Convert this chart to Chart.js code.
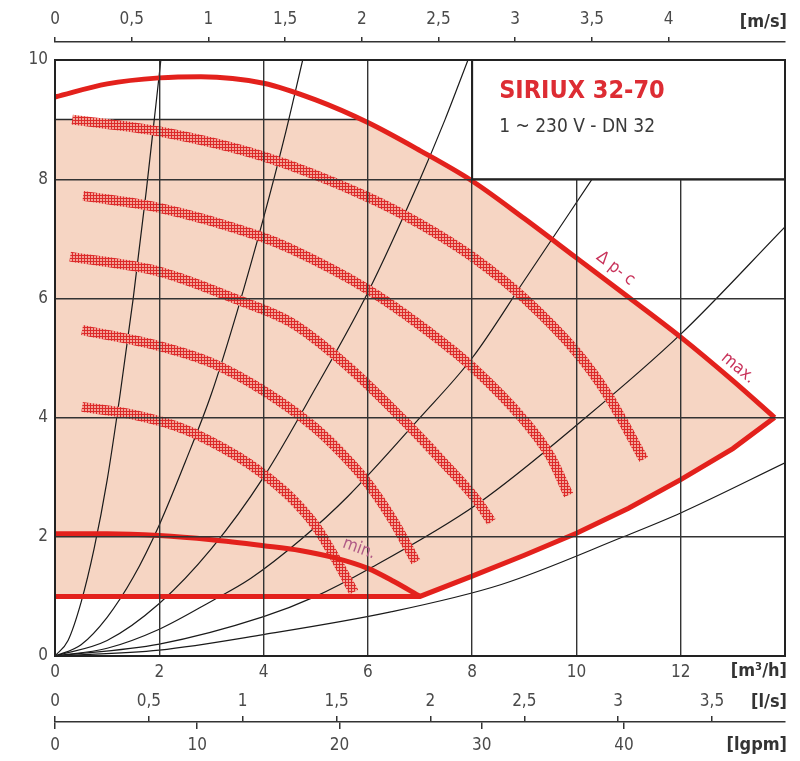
<!DOCTYPE html>
<html>
<head>
<meta charset="utf-8">
<script src="https://cdn.jsdelivr.net/npm/chart.js@4.4.1/dist/chart.umd.min.js"></script>
<style>
  html, body { margin: 0; padding: 0; background: #fff; }
  canvas { display: block; }
</style>
</head>
<body>
<canvas id="chart" width="800" height="761"></canvas>
<script>
// axis ticks
const qTicks = [0, 2, 4, 6, 8, 10, 12, 14];
const hTicks = [0, 2, 4, 6, 8, 10];
const msTicks = [0, 0.5, 1, 1.5, 2, 2.5, 3, 3.5, 4];
const lsTicks = [0, 0.5, 1, 1.5, 2, 2.5, 3, 3.5];
const gpmTicks = [0, 10, 20, 30, 40];

// max curve (Δp-c) and its straight part to the "max." corner
const maxQ = [0, 1, 2, 2.8, 4, 5, 6, 7, 8, 9, 10, 11, 12, 13, 13.8];
const maxH = [9.38, 9.6, 9.7, 9.72, 9.61, 9.33, 8.95, 8.48, 7.97, 7.34, 6.68, 6.02, 5.35, 4.62, 4.0];
// min curve
const minQ = [0, 1, 2, 3, 4, 4.7, 5.35, 6, 6.5, 7];
const minH = [2.05, 2.05, 2.02, 1.95, 1.85, 1.77, 1.65, 1.47, 1.25, 1.0];
// lower limit of the working field
const floorQ = [0, 7, 8, 9, 10, 11, 12, 13, 13.8];
const floorH = [1, 1, 1.34, 1.69, 2.06, 2.48, 2.96, 3.48, 4.0];
// upper cap of the shaded field
const capQ = [0, 5.9];
const capH = [9, 9];

// speed curves (hatched)
const speed1 = [[0.33, 9.0], [2, 8.8], [4, 8.38], [6, 7.7], [7, 7.25], [8, 6.7], [9, 6.0], [10, 5.1], [10.6, 4.38], [11.29, 3.3]];
const speed2 = [[0.54, 7.72], [2, 7.52], [3.9, 7.05], [4.5, 6.84], [6, 6.15], [7, 5.55], [8, 4.85], [9, 3.95], [9.5, 3.35], [9.85, 2.7]];
const speed3 = [[0.29, 6.7], [2, 6.45], [3.52, 5.97], [4.52, 5.6], [5.5, 4.95], [6.5, 4.12], [7.5, 3.2], [8.1, 2.6], [8.37, 2.25]];
const speed4 = [[0.52, 5.47], [2, 5.2], [3, 4.92], [4, 4.45], [5, 3.82], [5.5, 3.4], [6, 2.9], [6.5, 2.25], [6.92, 1.58]];
const speed5 = [[0.52, 4.18], [1.5, 4.05], [2.5, 3.8], [3.5, 3.35], [4, 3.05], [4.5, 2.68], [5, 2.18], [5.35, 1.68], [5.73, 1.07]];

// system (pipe) curves
const sysA = [[0, 0], [0.25, 0.26], [0.5, 0.9], [0.75, 1.8], [1, 2.95], [1.25, 4.4], [1.5, 6.0], [1.75, 7.8], [2.03, 10]];
const sysB = [[0, 0], [0.5, 0.19], [1, 0.65], [1.5, 1.32], [2, 2.2], [2.5, 3.26], [3, 4.4], [3.5, 5.8], [4, 7.35], [4.4, 8.7], [4.75, 10]];
const sysC = [[0, 0], [1, 0.26], [2, 0.88], [3, 1.8], [4, 3.0], [5, 4.5], [6, 6.1], [7, 8.0], [7.48, 9.0], [7.92, 10]];
const sysD = [[0, 0], [1, 0.13], [2, 0.45], [3, 0.92], [3.75, 1.3], [4.71, 1.95], [5.62, 2.68], [7, 4.0], [8, 5.0], [9, 6.3], [10.3, 8]];
const sysE = [[0, 0], [2, 0.2], [4, 0.66], [5, 1.0], [6, 1.45], [8.1, 2.55], [10.15, 3.98], [12, 5.4], [14, 7.2]];
const sysF = [[0, 0], [2, 0.1], [4, 0.36], [6.44, 0.74], [8.56, 1.2], [10.9, 2.0], [12, 2.4], [14, 3.24]];

const M3H_PER_MS = 2.942;
const M3H_PER_LS = 3.6;
const M3H_PER_GPM = 0.27277;
const Q_MAX = 14;

const RED = '#e3211c';
const PEACH = '#f6d5c3';
const TXT = '#4a4a4a';
const FONT = "'Liberation Sans Narrow', 'DejaVu Sans Condensed', 'Roboto', sans-serif";

const xy = (qs, hs) => qs.map((q, i) => ({ x: q, y: hs[i] }));
const pairs = arr => arr.map(p => ({ x: p[0], y: p[1] }));
const comma = v => String(v).replace('.', ',');

// hatch pattern for speed curves
const pc = document.createElement('canvas');
pc.width = 3; pc.height = 3;
const pctx = pc.getContext('2d');
pctx.fillStyle = '#f3a497';
pctx.fillRect(0, 0, 3, 3);
pctx.fillStyle = '#dc2a2a';
pctx.fillRect(0, 0, 3, 1);
pctx.fillRect(0, 0, 1, 3);
const hatch = pctx.createPattern(pc, 'repeat');

const redLine = (data, smooth) => ({
  data, borderColor: RED, borderWidth: 5, pointRadius: 0, fill: false,
  cubicInterpolationMode: smooth ? 'monotone' : 'default', tension: 0,
  borderJoinStyle: 'miter'
});
const speedLine = arr => ({
  data: pairs(arr), borderColor: hatch, borderWidth: 10, pointRadius: 0, fill: false,
  cubicInterpolationMode: 'monotone', borderCapStyle: 'butt'
});
const sysLine = arr => ({
  data: pairs(arr), borderColor: '#1a1a1a', borderWidth: 1.2, pointRadius: 0, fill: false,
  cubicInterpolationMode: 'monotone'
});

const fillTop = xy(capQ, capH).concat(xy(maxQ, maxH).filter(p => p.x >= 6));

const datasets = [
  redLine(xy(maxQ, maxH), true),
  redLine(xy(minQ, minH), true),
  redLine(xy(floorQ, floorH), false),
  speedLine(speed1), speedLine(speed2), speedLine(speed3), speedLine(speed4), speedLine(speed5),
  sysLine(sysA), sysLine(sysB), sysLine(sysC), sysLine(sysD), sysLine(sysE), sysLine(sysF),
  { data: xy(capQ, capH), borderColor: '#2a2a2a', borderWidth: 1.5, pointRadius: 0, fill: false },
  { data: fillTop, borderColor: 'rgba(0,0,0,0)', borderWidth: 0, pointRadius: 0,
    backgroundColor: PEACH, fill: { target: 2 }, cubicInterpolationMode: 'monotone' }
];

const setTicks = list => s => { s.ticks = list.map(v => ({ value: v })); };
const tickFont = { family: FONT, size: 17 };

const decor = {
  id: 'decor',
  afterDraw(chart) {
    const { ctx, chartArea: a, scales: { x, y } } = chart;
    ctx.save();
    ctx.strokeStyle = '#222';
    ctx.lineWidth = 2;
    ctx.strokeRect(a.left, a.top, a.right - a.left, a.bottom - a.top);

    // name box
    const bx = x.getPixelForValue(8), by = y.getPixelForValue(8);
    ctx.fillStyle = '#fff';
    ctx.fillRect(bx, a.top, a.right - bx, by - a.top);
    ctx.strokeRect(bx, a.top, a.right - bx, by - a.top);
    ctx.textAlign = 'left';
    ctx.textBaseline = 'alphabetic';
    ctx.fillStyle = '#dd2c33';
    ctx.font = "bold 25px " + FONT;
    ctx.fillText('SIRIUX 32-70', bx + 27, a.top + 38);
    ctx.fillStyle = '#3a3a3a';
    ctx.font = "19px " + FONT;
    ctx.fillText('1 ~ 230 V - DN 32', bx + 27, a.top + 72);

    // curve labels
    const rot = (text, q, h, deg, color, size) => {
      ctx.save();
      ctx.translate(x.getPixelForValue(q), y.getPixelForValue(h));
      ctx.rotate(deg * Math.PI / 180);
      ctx.fillStyle = color;
      ctx.font = size + 'px ' + FONT;
      ctx.textAlign = 'center';
      ctx.textBaseline = 'middle';
      ctx.fillText(text, 0, 0);
      ctx.restore();
    };
    rot('Δ p- c', 10.75, 6.5, 38, '#c8325a', 17);
    rot('max.', 13.1, 4.83, 40, '#c8325a', 17);
    rot('min.', 5.83, 1.8, 20, '#b05a86', 17);

    // unit labels
    ctx.fillStyle = '#333';
    ctx.font = "bold 18px " + FONT;
    ctx.textAlign = 'right';
    ctx.textBaseline = 'middle';
    ctx.fillText('[m/s]', a.right + 2, 22);
    ctx.fillText('[m³/h]', a.right + 2, 671);
    ctx.fillText('[l/s]', a.right + 2, 702);
    ctx.fillText('[lgpm]', a.right + 2, 745);
    ctx.restore();
  }
};

new Chart(document.getElementById('chart').getContext('2d'), {
  type: 'line',
  data: { datasets },
  options: {
    responsive: false,
    animation: false,
    events: [],
    layout: { padding: { left: 0, right: 15, top: 0, bottom: 0 } },
    plugins: { legend: { display: false }, tooltip: { enabled: false } },
    scales: {
      x: {
        type: 'linear', position: 'bottom', min: 0, max: Q_MAX, weight: 0,
        afterBuildTicks: setTicks(qTicks),
        afterFit: s => { s.height = 28; },
        grid: { z: 1, color: '#333', lineWidth: 1.4, drawTicks: false },
        border: { display: false },
        ticks: { padding: 6, color: TXT, font: tickFont, maxRotation: 0, autoSkip: false,
                 callback: v => (v === Q_MAX ? '' : comma(v)) }
      },
      xLs: {
        type: 'linear', position: 'bottom', min: 0, max: Q_MAX / M3H_PER_LS, weight: 1,
        afterBuildTicks: setTicks(lsTicks),
        afterFit: s => { s.height = 32; },
        grid: { display: false, drawTicks: false },
        border: { display: false },
        ticks: { padding: 7, color: TXT, font: tickFont, maxRotation: 0, autoSkip: false, callback: comma }
      },
      xLsMarks: {
        type: 'linear', position: 'bottom', min: 0, max: Q_MAX / M3H_PER_LS, weight: 2,
        afterBuildTicks: setTicks(lsTicks),
        afterFit: s => { s.height = 6; },
        grid: { display: true, drawOnChartArea: false, drawTicks: true, tickLength: 6, color: '#333', lineWidth: 1.5 },
        border: { display: false },
        ticks: { display: false }
      },
      xGpm: {
        type: 'linear', position: 'bottom', min: 0, max: Q_MAX / M3H_PER_GPM, weight: 3,
        afterBuildTicks: setTicks(gpmTicks),
        afterFit: s => { s.height = 39; },
        grid: { display: true, drawOnChartArea: false, drawTicks: true, tickLength: 7, color: '#333', lineWidth: 1.5 },
        border: { display: true, color: '#333', width: 1.5 },
        ticks: { padding: 6, color: TXT, font: tickFont, maxRotation: 0, autoSkip: false, callback: comma }
      },
      xGap: {
        type: 'linear', position: 'top', min: 0, max: 1, weight: 0,
        afterFit: s => { s.height = 18; },
        grid: { display: false, drawTicks: false },
        border: { display: false },
        ticks: { display: false }
      },
      xMs: {
        type: 'linear', position: 'top', min: 0, max: Q_MAX / M3H_PER_MS, weight: 1,
        afterBuildTicks: setTicks(msTicks),
        afterFit: s => { s.height = 42; },
        grid: { display: true, drawOnChartArea: false, drawTicks: true, tickLength: 5, color: '#333', lineWidth: 1.5 },
        border: { display: true, color: '#333', width: 1.5 },
        ticks: { padding: 7, color: TXT, font: tickFont, maxRotation: 0, autoSkip: false, callback: comma }
      },
      y: {
        type: 'linear', position: 'left', min: 0, max: 10,
        afterBuildTicks: setTicks(hTicks),
        afterFit: s => { s.width = 55; },
        grid: { z: 1, color: '#333', lineWidth: 1.4, drawTicks: false },
        border: { display: false },
        ticks: { padding: 7, color: TXT, font: tickFont, autoSkip: false }
      }
    }
  },
  plugins: [decor]
});
</script>
</body>
</html>
